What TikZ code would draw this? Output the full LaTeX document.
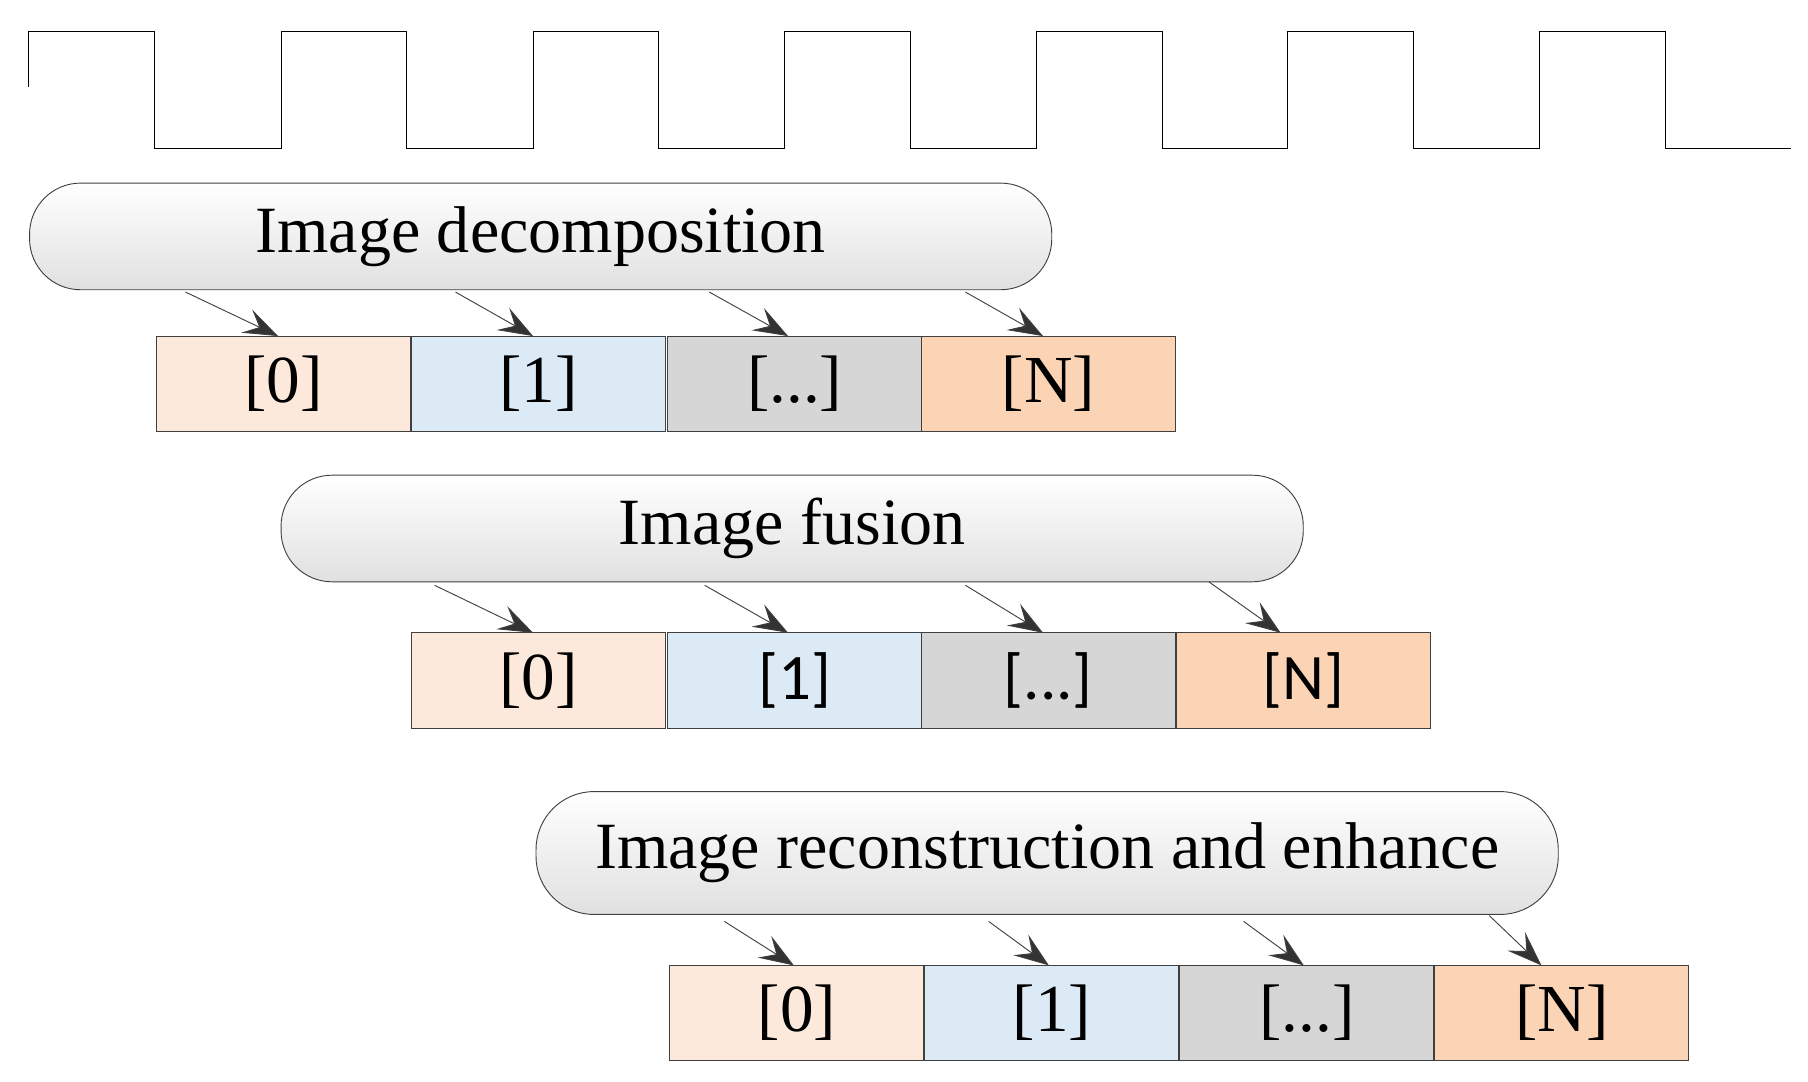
\documentclass[tikz,border=0pt]{standalone}
\usepackage{fontspec}
\setmainfont{Liberation Serif}
\newfontfamily\calib{Carlito}
\usetikzlibrary{arrows.meta}
\definecolor{cA}{RGB}{253,233,220}
\definecolor{cB}{RGB}{220,234,246}
\definecolor{cC}{RGB}{214,214,214}
\definecolor{cD}{RGB}{251,212,181}
\begin{document}
\begin{tikzpicture}[x=1pt,y=-1pt,
  pill/.style={draw=black!75,line width=0.8pt,rounded corners=44pt,top color=white,bottom color=black!12,minimum height=92pt,minimum width=882pt,inner sep=0pt,outer sep=0pt,font=\fontsize{57}{64}\selectfont},
  cell/.style={draw=black!75,line width=0.8pt,minimum width=219.2pt,minimum height=82.2pt,inner sep=0pt,outer sep=0pt,anchor=north west,font=\fontsize{58}{66}\selectfont},
  c0/.style={cell,fill=cA},
  c1/.style={cell,fill=cB},
  c2/.style={cell,fill=cC},
  c3/.style={cell,fill=cD},
  arr/.style={draw=black!75,line width=0.8pt,-{Stealth[length=30pt,width=22pt,inset=12pt,fill=black!80]}}]
\useasboundingbox (0,0) rectangle (1560,933);
\draw[line width=0.9pt] (25,75) -- (25,27) -- (133,27) -- (133,128) -- (243,128) -- (243,27) -- (351,27) -- (351,128)
 -- (460,128) -- (460,27) -- (568,27) -- (568,128) -- (677,128) -- (677,27) -- (786,27) -- (786,128)
 -- (894,128) -- (894,27) -- (1003,27) -- (1003,128) -- (1111,128) -- (1111,27) -- (1220,27) -- (1220,128)
 -- (1328,128) -- (1328,27) -- (1437,27) -- (1437,128) -- (1545,128);
% row 1
\node[pill] (p1) at (466.5,204) {Image decomposition};
\node[c0] (a0) at (135,290) {[0]};
\node[c1] (a1) at (355,290) {[1]};
\node[c2] (a2) at (576,290) {[...]};
\node[c3] (a3) at (795,290) {[N]};
\coordinate (s10) at (160,252); \coordinate (s11) at (393,252);
\coordinate (s12) at (612,252); \coordinate (s13) at (833,252);
\draw[arr] (s10) -- (a0.north west -| 240,0);
\draw[arr] (s11) -- (a1.north west -| 460,0);
\draw[arr] (s12) -- (a2.north west -| 680,0);
\draw[arr] (s13) -- (a3.north west -| 900,0);
% row 2
\node[pill] (p2) at (683.5,456) {Image fusion};
\node[c0] (b0) at (355,546) {[0]};
\node[c1,font=\calib\fontsize{56}{64}\selectfont] (b1) at (576,546) {[1]};
\node[c2,font=\calib\fontsize{56}{64}\selectfont] (b2) at (795,546) {[...]};
\node[c3,font=\calib\fontsize{56}{64}\selectfont] (b3) at (1015,546) {[N]};
\coordinate (s20) at (375,505); \coordinate (s21) at (608,505);
\coordinate (s22) at (833,505); \coordinate (s23) at (1043,502);
\draw[arr] (s20) -- (b0.north west -| 460,0);
\draw[arr] (s21) -- (b1.north west -| 680,0);
\draw[arr] (s22) -- (b2.north west -| 900,0);
\draw[arr] (s23) -- (b3.north west -| 1105,0);
% row 3
\node[pill,minimum height=106pt,rounded corners=50pt] (p3) at (903.5,736) {Image reconstruction and enhance};
\node[c0] (d0) at (578,833) {[0]};
\node[c1] (d1) at (798,833) {[1]};
\node[c2] (d2) at (1018,833) {[...]};
\node[c3] (d3) at (1238,833) {[N]};
\coordinate (s30) at (625,795); \coordinate (s31) at (853,795);
\coordinate (s32) at (1073,795); \coordinate (s33) at (1285,790);
\draw[arr] (s30) -- (d0.north west -| 685,0);
\draw[arr] (s31) -- (d1.north west -| 905,0);
\draw[arr] (s32) -- (d2.north west -| 1125,0);
\draw[arr] (s33) -- (d3.north west -| 1330,0);
\end{tikzpicture}
\end{document}
